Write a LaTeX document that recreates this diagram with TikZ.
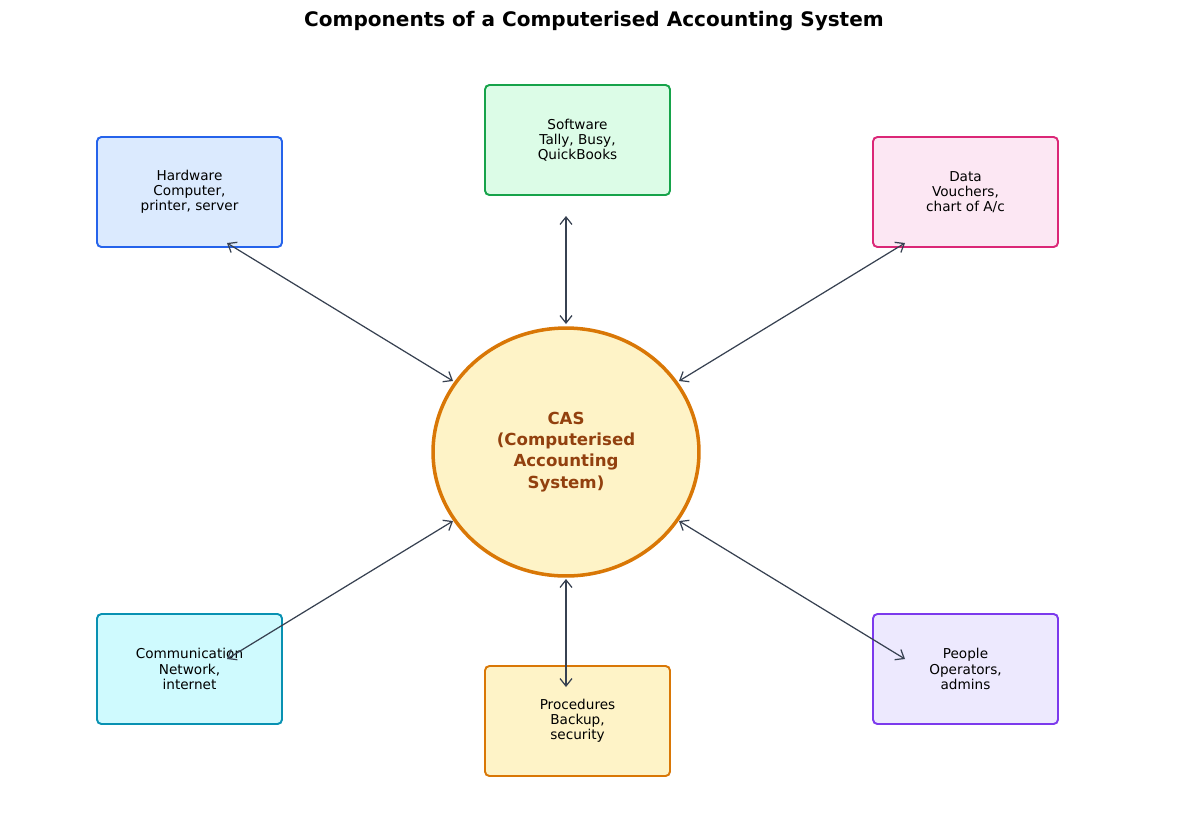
\documentclass[tikz,border=0pt]{standalone}
\usepackage{fontspec}
\setmainfont{DejaVu Sans}
\usetikzlibrary{arrows.meta,shapes.geometric}
\definecolor{hwF}{HTML}{DBEAFE}\definecolor{hwD}{HTML}{2563EB}
\definecolor{swF}{HTML}{DCFCE7}\definecolor{swD}{HTML}{16A34A}
\definecolor{daF}{HTML}{FCE7F3}\definecolor{daD}{HTML}{DB2777}
\definecolor{coF}{HTML}{CFFAFE}\definecolor{coD}{HTML}{0891B2}
\definecolor{prF}{HTML}{FEF3C7}\definecolor{prD}{HTML}{D97706}
\definecolor{peF}{HTML}{EDE9FE}\definecolor{peD}{HTML}{7C3AED}
\definecolor{casT}{HTML}{92400E}
\definecolor{arr}{HTML}{374151}
\tikzset{
  comp/.style={draw, line width=1.1pt, rounded corners=2.5pt, minimum width=3.7cm, minimum height=2.2cm, align=center, font=\fontsize{7.75}{8.6}\selectfont, text=black, inner sep=0pt},
  link/.style={draw=arr, line width=0.7pt, {Straight Barb[length=1.5mm,width=2.4mm]}-{Straight Barb[length=1.5mm,width=2.4mm]}},
}
\begin{document}
\begin{tikzpicture}[x=0.02cm,y=-0.02cm]
\useasboundingbox (0,0) rectangle (1187,826);
\node[font=\bfseries\fontsize{11.4}{13}\selectfont] (title) at (594,21) {Components of a Computerised Accounting System};
\node[ellipse, draw=prD, fill=prF, line width=2pt, minimum width=5.32cm, minimum height=4.96cm, inner sep=0pt, align=center, text=casT, font=\bfseries\fontsize{9.45}{12}\selectfont] (cas) at (566,452) {CAS\\(Computerised\\Accounting\\System)};
\node[comp, draw=hwD, fill=hwF] (hw) at (189.5,192) {Hardware\\Computer,\\printer, server};
\node[comp, draw=swD, fill=swF] (sw) at (577.5,140) {Software\\Tally, Busy,\\QuickBooks};
\node[comp, draw=daD, fill=daF] (da) at (965.5,192) {Data\\Vouchers,\\chart of A/c};
\node[comp, draw=coD, fill=coF] (co) at (189.5,669) {Communication\\Network,\\internet};
\node[comp, draw=prD, fill=prF] (pr) at (577.5,721) {Procedures\\Backup,\\security};
\node[comp, draw=peD, fill=peF] (pe) at (965.5,669) {People\\Operators,\\admins};
% arrow ends
\coordinate (hwE) at (227,243); \coordinate (hwC) at (453,381);
\coordinate (swE) at (566,216); \coordinate (swC) at (566,324);
\coordinate (daE) at (905,243); \coordinate (daC) at (679,381);
\coordinate (coE) at (227,659); \coordinate (coC) at (453,521);
\coordinate (prE) at (566,687); \coordinate (prC) at (566,579);
\coordinate (peE) at (905,659); \coordinate (peC) at (679,521);
\draw[link] (hwE) -- (hwC);
\draw[link] (swE) -- (swC);
\draw[link] (daE) -- (daC);
\draw[link] (coE) -- (coC);
\draw[link] (prE) -- (prC);
\draw[link] (peE) -- (peC);
\end{tikzpicture}
\end{document}
